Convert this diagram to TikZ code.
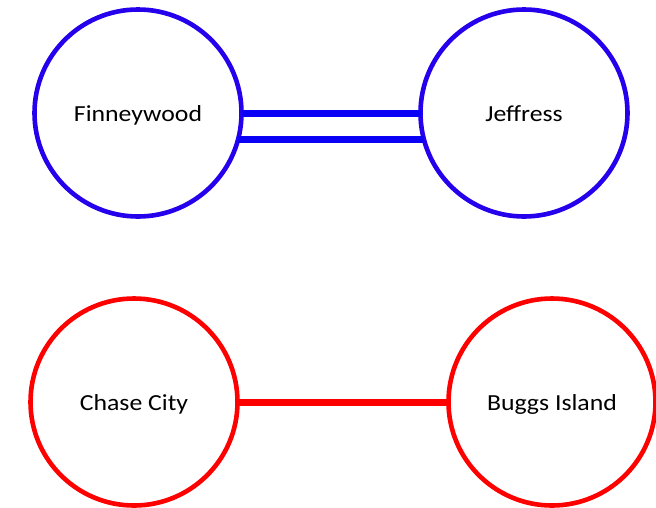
\documentclass[tikz,border=0pt]{standalone}
\usepackage{fontspec}
\setmainfont{Carlito}[FakeStretch=1.12]
\definecolor{cblue}{RGB}{36,0,236}
\definecolor{lblue}{RGB}{10,0,245}
\definecolor{cred}{RGB}{255,0,0}
\tikzset{
  town/.style={circle, draw, line width=4.6pt, minimum size=207pt, inner sep=0pt, outer sep=0pt,
    font=\fontsize{23}{27}\selectfont},
  bluetown/.style={town, draw=cblue},
  redtown/.style={town, draw=cred},
  blueline/.style={draw=lblue, line width=7pt},
  redline/.style={draw=cred, line width=7pt}
}
\begin{document}
\begin{tikzpicture}[x=1pt, y=-1pt]
\useasboundingbox (0,0) rectangle (656,507);
\node[bluetown] (fw) at (138,113) {\raisebox{-8.5pt}[0pt][0pt]{Finneywood}};
\node[bluetown] (jf) at (524,113) {\raisebox{-8.5pt}[0pt][0pt]{Jeffress}};
\node[redtown] (cc) at (134,402) {\raisebox{-8pt}[0pt][0pt]{Chase City}};
\node[redtown] (bi) at (552,402) {\raisebox{-8pt}[0pt][0pt]{Buggs Island}};
\draw[blueline] (fw.east) -- (jf.west);
\draw[blueline] (fw.-15) -- (jf.-165);
\draw[redline] (cc.east) -- (bi.west);
\end{tikzpicture}
\end{document}
